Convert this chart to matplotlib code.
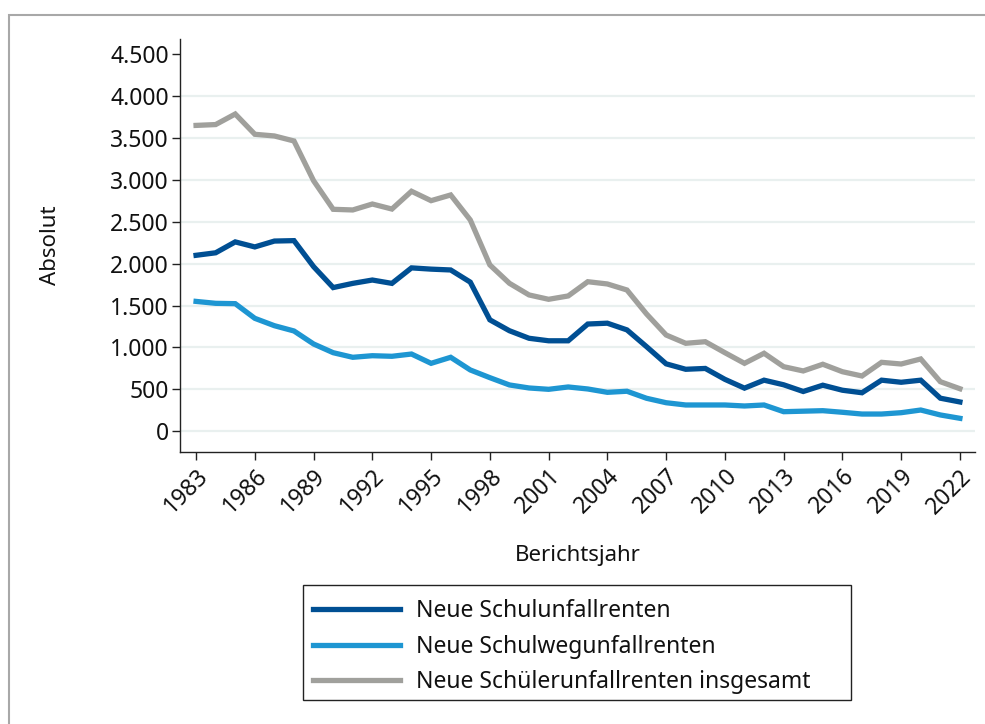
import matplotlib.pyplot as plt
from matplotlib.patches import Rectangle

plt.rcParams['font.family'] = ['Noto Sans', 'DejaVu Sans']

years = list(range(1983, 2023))

# Neue Schulunfallrenten
schul = [2100, 2130, 2260, 2200, 2270, 2275, 1965, 1715, 1765, 1805, 1765,
         1950, 1935, 1925, 1780, 1330, 1200, 1110, 1080, 1080, 1280, 1290,
         1210, 1010, 805, 740, 750, 620, 515, 610, 555, 475, 550, 490,
         460, 610, 585, 610, 395, 350]

# Neue Schulwegunfallrenten
schulweg = [1550, 1527, 1523, 1348, 1260, 1197, 1042, 938, 883, 902, 895,
            922, 811, 883, 732, 640, 553, 517, 501, 529, 505, 465,
            478, 394, 341, 314, 314, 314, 302, 314, 234, 240, 246, 227,
            206, 206, 222, 254, 195, 155]

# Neue Schuelerunfallrenten insgesamt
gesamt = [3650, 3660, 3786, 3544, 3524, 3464, 2990, 2649, 2641, 2712, 2652,
          2864, 2752, 2820, 2522, 1985, 1766, 1627, 1575, 1615, 1785, 1758,
          1686, 1400, 1149, 1050, 1069, 938, 811, 931, 771, 720, 800, 711,
          660, 823, 803, 863, 592, 508]

labels = ['Neue Schulunfallrenten', 'Neue Schulwegunfallrenten',
          'Neue Schülerunfallrenten insgesamt']
colors = ['#004f93', '#1e96d2', '#a0a09c']

yticks = list(range(0, 4501, 500))
ytick_labels = [f'{v:,}'.replace(',', '.') for v in yticks]
xticks = list(range(1983, 2023, 3))

fs = 16
tfs = 16.5
W, H = 985, 724

fig = plt.figure(figsize=(W / 100, H / 100), dpi=100)
ax = fig.add_axes([180/W, 1 - 452/H, 795/W, 413/H])

for v in yticks[:-1]:
    ax.axhline(v, color='#e9f0ef', lw=1.6, zorder=0)

for series, lab, col in zip([schul, schulweg, gesamt], labels, colors):
    ax.plot(years, series, color=col, lw=3.8, label=lab,
            solid_joinstyle='miter', zorder=3)

ax.set_xlim(1982.18, 2022.77)
ax.set_ylim(-247, 4681)
ax.set_yticks(yticks)
ax.set_yticklabels(ytick_labels)
ax.set_xticks(xticks)
ax.set_xticklabels([str(x) for x in xticks], rotation=45, ha='right',
                   rotation_mode='anchor')
ax.tick_params(axis='both', labelsize=tfs, length=6, width=1, color='#222222',
               labelcolor='#111111')
ax.tick_params(axis='x', pad=3)
ax.tick_params(axis='y', pad=2)

for s in ['top', 'right']:
    ax.spines[s].set_visible(False)
for s in ['left', 'bottom']:
    ax.spines[s].set_color('#222222')
    ax.spines[s].set_linewidth(1)

ax.set_ylabel('Absolut', fontsize=fs, color='#111111')
ax.yaxis.set_label_coords(-0.150, 0.5)
ax.set_xlabel('Berichtsjahr', fontsize=fs, color='#111111')
ax.xaxis.set_label_coords(0.5, -0.225)

# legend entries without the default frame; box drawn separately
leg = fig.legend(loc='upper left', bbox_to_anchor=(303/W, 1 - 589/H),
                 borderaxespad=0, fontsize=16.5, frameon=False,
                 handlelength=3.8, handletextpad=0.7,
                 labelspacing=0.49, borderpad=0.45)
for t in leg.get_texts():
    t.set_color('#111111')

fig.patches.append(Rectangle((303/W, 1 - 700/H), 548/W, 115/H,
                             transform=fig.transFigure, fill=False,
                             edgecolor='#222222', lw=1))

fig.patches.append(Rectangle((9/W, -0.1), 2, 1.1 - 15/H,
                             transform=fig.transFigure, fill=False,
                             edgecolor='#a8a8a8', lw=1.5))

fig.savefig('out.png', dpi=100)
